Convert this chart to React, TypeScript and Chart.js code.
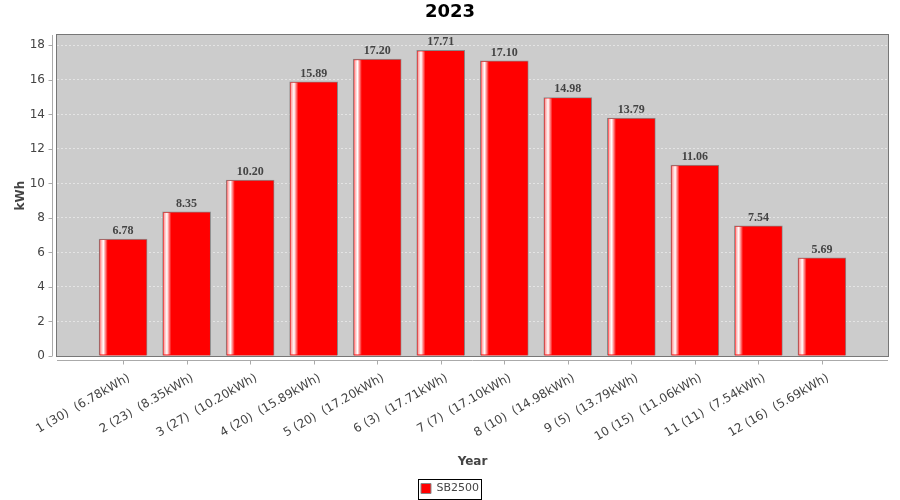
import React, { useEffect, useRef } from "react";
import { Chart, registerables } from "chart.js";

Chart.register(...registerables);

// ---- data ----
const months = [1, 2, 3, 4, 5, 6, 7, 8, 9, 10, 11, 12];
const dayCounts = [30, 23, 27, 20, 20, 3, 7, 10, 5, 15, 11, 16];
const values = [6.78, 8.35, 10.2, 15.89, 17.2, 17.71, 17.1, 14.98, 13.79, 11.06, 7.54, 5.69];
const categories = months.map(
  (m, i) => `${m} (${dayCounts[i]})  (${values[i].toFixed(2)}kWh)`
);
const yTicks = [0, 2, 4, 6, 8, 10, 12, 14, 16, 18];
const seriesName = "SB2500";
const chartTitle = "2023";
const xTitle = "Year";
const yTitle = "kWh";

const SANS = "'DejaVu Sans', sans-serif";

const decorPlugin = {
  id: "decor",
  afterLayout(chart: any) {
    const lg = chart.legend;
    if (lg) {
      lg.top += 4;
      lg.bottom += 4;
    }
  },
  beforeDraw(chart: any) {
    const { ctx, chartArea: a } = chart;
    ctx.save();
    ctx.fillStyle = "#cccccc";
    ctx.fillRect(a.left, a.top, a.right - a.left, a.bottom - a.top);
    ctx.restore();
  },
  afterDatasetsDraw(chart: any) {
    const { ctx, chartArea: a } = chart;
    const meta = chart.getDatasetMeta(0);
    ctx.save();
    meta.data.forEach((el: any, i: number) => {
      const { x, y, base, width } = el.getProps(["x", "y", "base", "width"], true);
      const x0 = x - width / 2;
      const g = ctx.createLinearGradient(x0, 0, x0 + width, 0);
      g.addColorStop(0, "#ff7070");
      g.addColorStop(0.09, "#ffffff");
      g.addColorStop(0.18, "#ff0000");
      g.addColorStop(1, "#ff0000");
      ctx.fillStyle = g;
      ctx.fillRect(x0 + 1, y + 1, width - 2, base - y - 2);
      // value label
      ctx.fillStyle = "#444444";
      ctx.font = "bold 12px 'Liberation Serif', serif";
      ctx.textAlign = "center";
      ctx.textBaseline = "alphabetic";
      ctx.fillText(values[i].toFixed(2), x, y - 5);
    });
    // plot border
    ctx.strokeStyle = "#777777";
    ctx.lineWidth = 1;
    ctx.strokeRect(
      Math.round(a.left) - 0.5,
      Math.round(a.top) - 0.5,
      Math.round(a.right - a.left) + 1,
      Math.round(a.bottom - a.top) + 1
    );
    // axis lines and tick marks (offset from plot like the original)
    ctx.strokeStyle = "#aaaaaa";
    const xs = chart.scales.x;
    const ys = chart.scales.y;
    const axY = Math.round(a.bottom) + 4.5;
    ctx.beginPath();
    ctx.moveTo(a.left, axY);
    ctx.lineTo(a.right, axY);
    categories.forEach((_, i) => {
      const px = Math.round(xs.getPixelForValue(i)) + 0.5;
      ctx.moveTo(px, axY);
      ctx.lineTo(px, axY + 4);
    });
    const axX = Math.round(a.left) - 4.5;
    ctx.moveTo(axX, a.top);
    ctx.lineTo(axX, a.bottom);
    yTicks.forEach((v) => {
      const py = Math.round(ys.getPixelForValue(v)) + 0.5;
      ctx.moveTo(axX, py);
      ctx.lineTo(axX - 4, py);
    });
    ctx.stroke();
    ctx.restore();
  },
  afterDraw(chart: any) {
    const lg = chart.legend;
    if (!lg || !lg.legendHitBoxes || !lg.legendHitBoxes.length) return;
    const { ctx } = chart;
    ctx.save();
    ctx.font = `11px ${SANS}`;
    const tw = ctx.measureText(seriesName).width;
    const itemW = 10 + 5.5 + tw;
    const lineW = itemW + 10;
    const startX = (lg.left + 10 + lg.right - lineW) / 2;
    const cy = lg.top + 10 + 5.5;
    ctx.strokeStyle = "#000000";
    ctx.lineWidth = 1;
    ctx.strokeRect(Math.round(startX - 3) + 0.5, Math.round(cy - 10) + 0.5, Math.round(itemW + 5), 20);
    ctx.restore();
  },
};

export default function App() {
  const ref = useRef<HTMLCanvasElement | null>(null);

  useEffect(() => {
    document.body.style.margin = "0";
    if (!ref.current) return;
    const chart = new Chart(ref.current, {
      type: "bar",
      data: {
        datasets: [
          {
            label: seriesName,
            data: values.map((v, i) => ({ x: i, y: v })),
            backgroundColor: "#ff0000",
            borderColor: "#888888",
            borderWidth: 1,
            barThickness: 48,
          },
        ],
      },
      options: {
        responsive: false,
        animation: false,
        devicePixelRatio: 1,
        layout: { padding: 0 },
        scales: {
          x: {
            type: "linear",
            min: -1.04,
            max: 12.04,
            offset: false,
            afterBuildTicks: (s: any) => {
              s.ticks = categories.map((_, i) => ({ value: i }));
            },
            afterFit: (s: any) => {
              s.height = 113;
            },
            grid: { display: false, drawTicks: false, offset: false },
            border: { display: false },
            ticks: {
              autoSkip: false,
              minRotation: 30,
              maxRotation: 30,
              padding: 15,
              labelOffset: 6,
              color: "#444444",
              font: { family: SANS, size: 12 },
              callback: (v: any) => categories[v as number] ?? "",
            },
            title: {
              display: true,
              text: xTitle,
              color: "#444444",
              font: { family: SANS, size: 12, weight: "bold" },
              padding: { top: 0, bottom: 0 },
            },
          },
          y: {
            type: "linear",
            min: 0,
            max: 18.6,
            afterBuildTicks: (s: any) => {
              s.ticks = yTicks.map((v) => ({ value: v }));
            },
            afterFit: (s: any) => {
              s.width = 57;
            },
            grid: { color: "#e4e4e4", lineWidth: 1, drawTicks: false },
            border: { display: false, dash: [2, 2] },
            ticks: {
              padding: 12,
              color: "#444444",
              font: { family: SANS, size: 12 },
            },
            title: {
              display: true,
              text: yTitle,
              color: "#444444",
              font: { family: SANS, size: 12, weight: "bold" },
              padding: { top: 14, bottom: 0 },
            },
          },
          yR: {
            type: "linear",
            position: "right",
            display: true,
            grid: { display: false, drawTicks: false },
            border: { display: false },
            ticks: { display: false },
            afterFit: (s: any) => {
              s.width = 12;
            },
          },
        },
        plugins: {
          title: {
            display: true,
            text: chartTitle,
            color: "#000000",
            font: { family: SANS, size: 18, weight: "bold" },
            padding: { top: 2, bottom: 11.4 },
          },
          legend: {
            display: true,
            position: "bottom",
            labels: {
              boxWidth: 10,
              boxHeight: 10,
              color: "#444444",
              font: { family: SANS, size: 11 },
              padding: 10,
            },
          },
          tooltip: { enabled: false },
        },
      } as any,
      plugins: [decorPlugin],
    });
    return () => chart.destroy();
  }, []);

  return (
    <div style={{ width: 900, height: 500 }}>
      <canvas ref={ref} width={900} height={500} />
    </div>
  );
}
